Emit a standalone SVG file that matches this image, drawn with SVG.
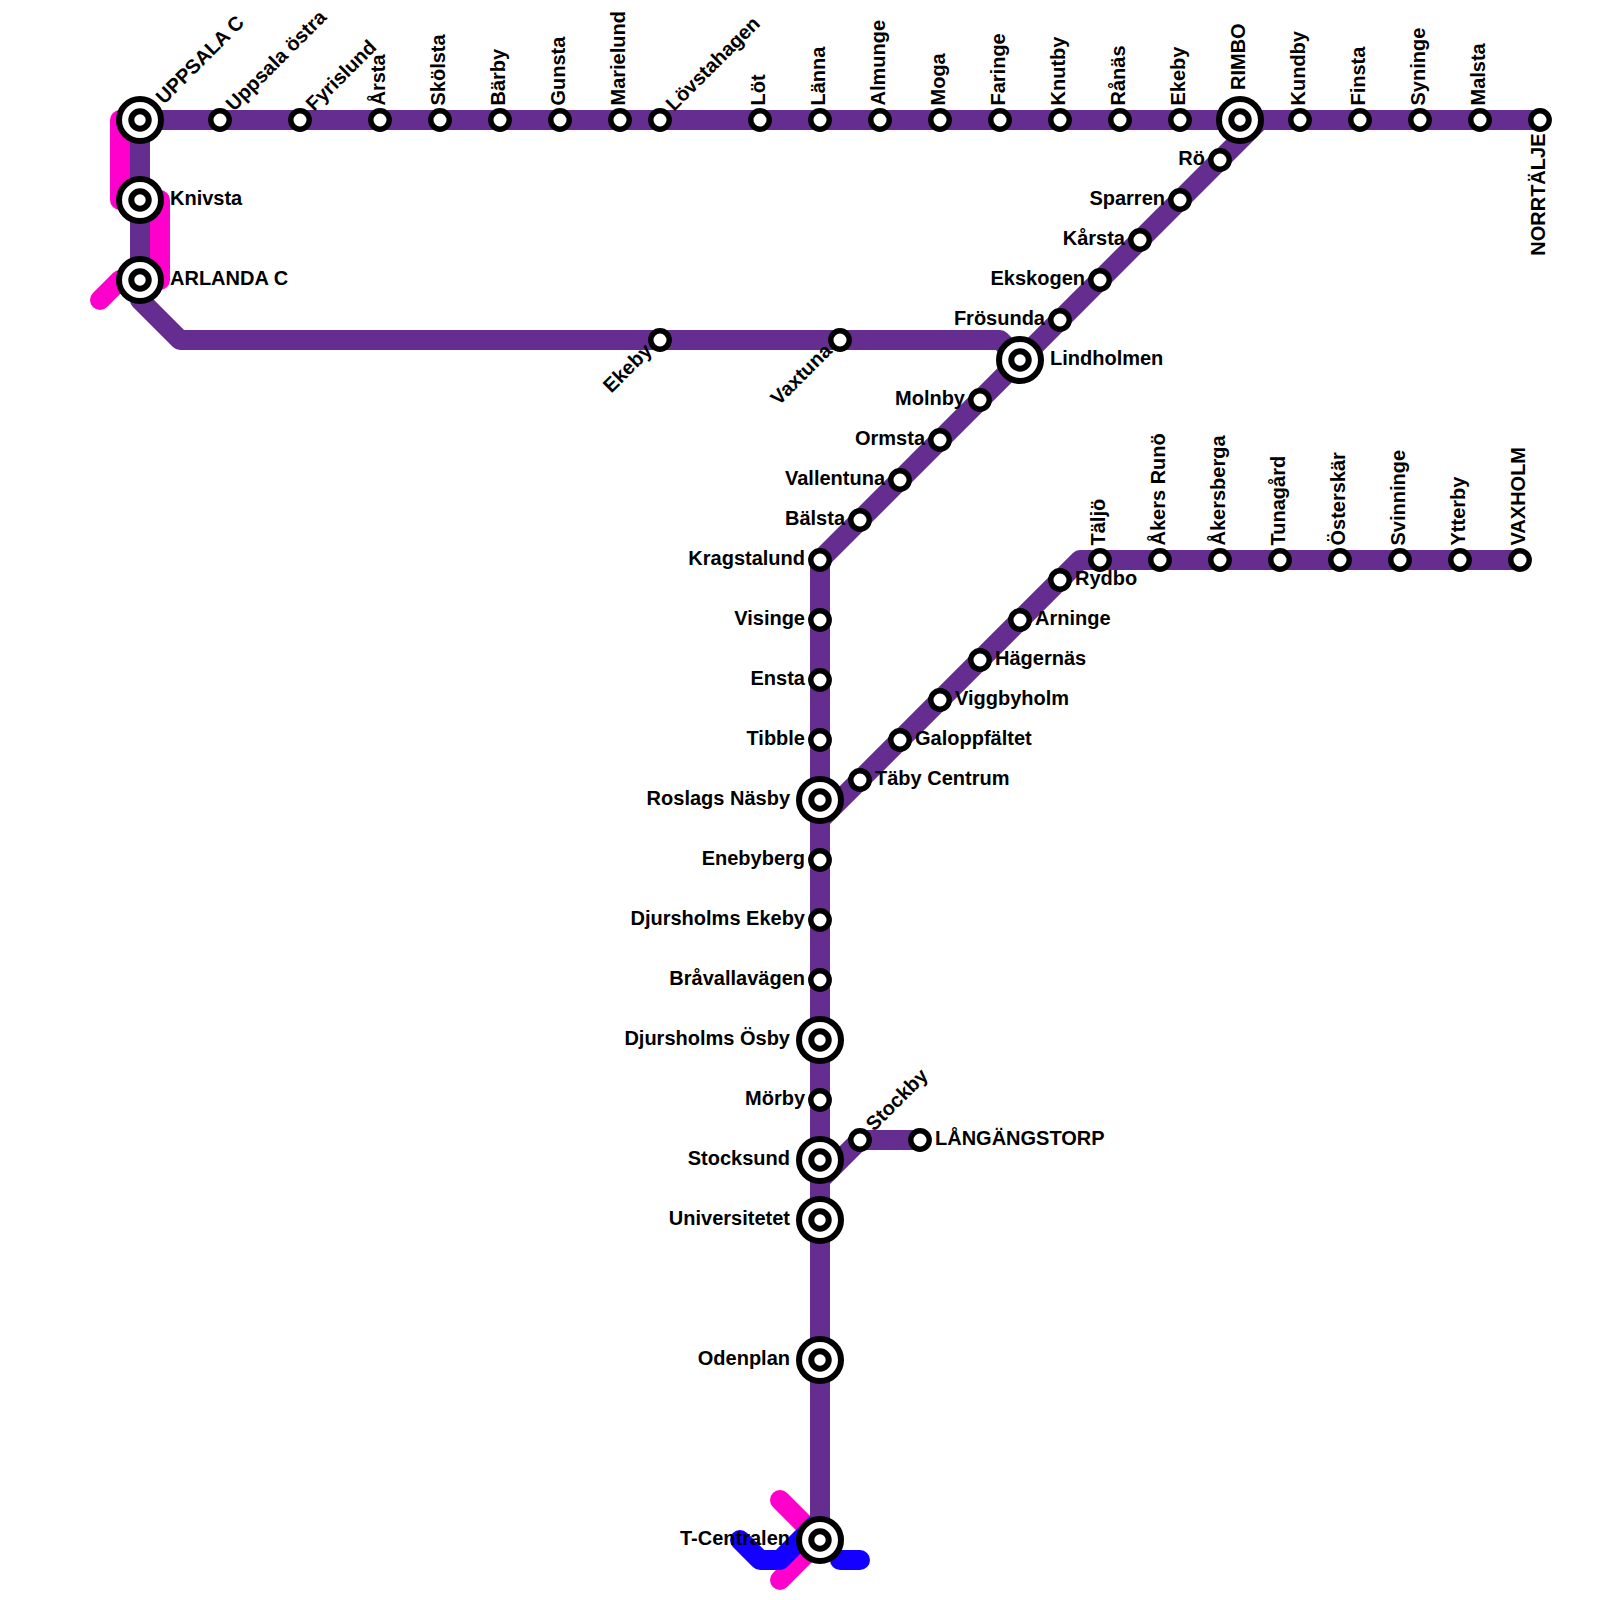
<svg xmlns="http://www.w3.org/2000/svg" width="1600" height="1600" viewBox="0 0 1600 1600">
<style>
.l{fill:none;stroke-width:20;stroke-linecap:round;stroke-linejoin:round}
.p{stroke:#662d91}.m{stroke:#ff00cc}.b{stroke:#1400ff}
.o{fill:#fff;stroke:#000;stroke-width:5.4}
.w{fill:#fff;stroke:#000;stroke-width:6}
.t{font-family:"Liberation Sans",Arial,sans-serif;font-size:20px;font-weight:700;fill:#000}
.e{text-anchor:end}
</style>
<rect width="1600" height="1600" fill="#fff"/>
<g id="connectors">
<path class="l m" d="M140,120H120V200H140"/>
<path class="l m" d="M140,200H160V280H140"/>
<path class="l m" d="M140,280H120L100,300"/>
<path class="l m" d="M780,1500L820,1540L780,1580"/>
<path class="l b" d="M740,1540L760,1560H780L820,1520"/>
<path class="l b" d="M840,1560H860"/>
<path class="l p" d="M1540,120H140V300L180,340H1000L1020,360"/>
<path class="l p" d="M1260,120L820,560V1540"/>
<path class="l p" d="M820,820L1080,560H1520"/>
<path class="l p" d="M820,1180L860,1140H920"/>
</g>
<g id="n-uppsala-c"><circle class="w" cx="140" cy="120" r="21"/><circle class="w" cx="140" cy="120" r="8.7"/><text class="t" transform="translate(164,105) rotate(-45)">UPPSALA C</text></g>
<g id="n-uppsala-ostra"><circle class="o" cx="220" cy="120" r="9.2"/><text class="t" transform="translate(234,112) rotate(-45)">Uppsala östra</text></g>
<g id="n-fyrislund"><circle class="o" cx="300" cy="120" r="9.2"/><text class="t" transform="translate(314,112) rotate(-45)">Fyrislund</text></g>
<g id="n-arsta"><circle class="o" cx="380" cy="120" r="9.2"/><text class="t" transform="translate(385,105.5) rotate(-90)">Årsta</text></g>
<g id="n-skolsta"><circle class="o" cx="440" cy="120" r="9.2"/><text class="t" transform="translate(445,105.5) rotate(-90)">Skölsta</text></g>
<g id="n-barby"><circle class="o" cx="500" cy="120" r="9.2"/><text class="t" transform="translate(505,105.5) rotate(-90)">Bärby</text></g>
<g id="n-gunsta"><circle class="o" cx="560" cy="120" r="9.2"/><text class="t" transform="translate(565,105.5) rotate(-90)">Gunsta</text></g>
<g id="n-marielund"><circle class="o" cx="620" cy="120" r="9.2"/><text class="t" transform="translate(625,105.5) rotate(-90)">Marielund</text></g>
<g id="n-lovstahagen"><circle class="o" cx="660" cy="120" r="9.2"/><text class="t" transform="translate(674,112) rotate(-45)">Lövstahagen</text></g>
<g id="n-lot"><circle class="o" cx="760" cy="120" r="9.2"/><text class="t" transform="translate(765,105.5) rotate(-90)">Löt</text></g>
<g id="n-lanna"><circle class="o" cx="820" cy="120" r="9.2"/><text class="t" transform="translate(825,105.5) rotate(-90)">Länna</text></g>
<g id="n-almunge"><circle class="o" cx="880" cy="120" r="9.2"/><text class="t" transform="translate(885,105.5) rotate(-90)">Almunge</text></g>
<g id="n-moga"><circle class="o" cx="940" cy="120" r="9.2"/><text class="t" transform="translate(945,105.5) rotate(-90)">Moga</text></g>
<g id="n-faringe"><circle class="o" cx="1000" cy="120" r="9.2"/><text class="t" transform="translate(1005,105.5) rotate(-90)">Faringe</text></g>
<g id="n-knutby"><circle class="o" cx="1060" cy="120" r="9.2"/><text class="t" transform="translate(1065,105.5) rotate(-90)">Knutby</text></g>
<g id="n-ranas"><circle class="o" cx="1120" cy="120" r="9.2"/><text class="t" transform="translate(1125,105.5) rotate(-90)">Rånäs</text></g>
<g id="n-ekeby-n"><circle class="o" cx="1180" cy="120" r="9.2"/><text class="t" transform="translate(1185,105.5) rotate(-90)">Ekeby</text></g>
<g id="n-rimbo"><circle class="w" cx="1240" cy="120" r="21"/><circle class="w" cx="1240" cy="120" r="8.7"/><text class="t" transform="translate(1245,90) rotate(-90)">RIMBO</text></g>
<g id="n-kundby"><circle class="o" cx="1300" cy="120" r="9.2"/><text class="t" transform="translate(1305,105.5) rotate(-90)">Kundby</text></g>
<g id="n-finsta"><circle class="o" cx="1360" cy="120" r="9.2"/><text class="t" transform="translate(1365,105.5) rotate(-90)">Finsta</text></g>
<g id="n-syninge"><circle class="o" cx="1420" cy="120" r="9.2"/><text class="t" transform="translate(1425,105.5) rotate(-90)">Syninge</text></g>
<g id="n-malsta"><circle class="o" cx="1480" cy="120" r="9.2"/><text class="t" transform="translate(1485,105.5) rotate(-90)">Malsta</text></g>
<g id="n-norrtalje"><circle class="o" cx="1540" cy="120" r="9.2"/><text class="t e" transform="translate(1545,133.5) rotate(-90)">NORRTÄLJE</text></g>
<g id="n-knivsta"><circle class="w" cx="140" cy="200" r="21"/><circle class="w" cx="140" cy="200" r="8.7"/><text class="t" x="170" y="205">Knivsta</text></g>
<g id="n-arlanda"><circle class="w" cx="140" cy="280" r="21"/><circle class="w" cx="140" cy="280" r="8.7"/><text class="t" x="170" y="285">ARLANDA C</text></g>
<g id="n-ekeby-w"><circle class="o" cx="660" cy="340" r="9.2"/><text class="t e" transform="translate(653,352) rotate(-45)">Ekeby</text></g>
<g id="n-vaxtuna"><circle class="o" cx="840" cy="340" r="9.2"/><text class="t e" transform="translate(833,352) rotate(-45)">Vaxtuna</text></g>
<g id="n-ro"><circle class="o" cx="1220" cy="160" r="9.2"/><text class="t e" x="1205" y="165">Rö</text></g>
<g id="n-sparren"><circle class="o" cx="1180" cy="200" r="9.2"/><text class="t e" x="1165" y="205">Sparren</text></g>
<g id="n-karsta"><circle class="o" cx="1140" cy="240" r="9.2"/><text class="t e" x="1125" y="245">Kårsta</text></g>
<g id="n-ekskogen"><circle class="o" cx="1100" cy="280" r="9.2"/><text class="t e" x="1085" y="285">Ekskogen</text></g>
<g id="n-frosunda"><circle class="o" cx="1060" cy="320" r="9.2"/><text class="t e" x="1045" y="325">Frösunda</text></g>
<g id="n-lindholmen"><circle class="w" cx="1020" cy="360" r="21"/><circle class="w" cx="1020" cy="360" r="8.7"/><text class="t" x="1050" y="365">Lindholmen</text></g>
<g id="n-molnby"><circle class="o" cx="980" cy="400" r="9.2"/><text class="t e" x="965" y="405">Molnby</text></g>
<g id="n-ormsta"><circle class="o" cx="940" cy="440" r="9.2"/><text class="t e" x="925" y="445">Ormsta</text></g>
<g id="n-vallentuna"><circle class="o" cx="900" cy="480" r="9.2"/><text class="t e" x="885" y="485">Vallentuna</text></g>
<g id="n-balsta"><circle class="o" cx="860" cy="520" r="9.2"/><text class="t e" x="845" y="525">Bälsta</text></g>
<g id="n-kragstalund"><circle class="o" cx="820" cy="560" r="9.2"/><text class="t e" x="805" y="565">Kragstalund</text></g>
<g id="n-visinge"><circle class="o" cx="820" cy="620" r="9.2"/><text class="t e" x="805" y="625">Visinge</text></g>
<g id="n-ensta"><circle class="o" cx="820" cy="680" r="9.2"/><text class="t e" x="805" y="685">Ensta</text></g>
<g id="n-tibble"><circle class="o" cx="820" cy="740" r="9.2"/><text class="t e" x="805" y="745">Tibble</text></g>
<g id="n-roslags-nasby"><circle class="w" cx="820" cy="800" r="21"/><circle class="w" cx="820" cy="800" r="8.7"/><text class="t e" x="790" y="805">Roslags Näsby</text></g>
<g id="n-enebyberg"><circle class="o" cx="820" cy="860" r="9.2"/><text class="t e" x="805" y="865">Enebyberg</text></g>
<g id="n-djursholms-ekeby"><circle class="o" cx="820" cy="920" r="9.2"/><text class="t e" x="805" y="925">Djursholms Ekeby</text></g>
<g id="n-bravallavagen"><circle class="o" cx="820" cy="980" r="9.2"/><text class="t e" x="805" y="985">Bråvallavägen</text></g>
<g id="n-djursholms-osby"><circle class="w" cx="820" cy="1040" r="21"/><circle class="w" cx="820" cy="1040" r="8.7"/><text class="t e" x="790" y="1045">Djursholms Ösby</text></g>
<g id="n-morby"><circle class="o" cx="820" cy="1100" r="9.2"/><text class="t e" x="805" y="1105">Mörby</text></g>
<g id="n-stocksund"><circle class="w" cx="820" cy="1160" r="21"/><circle class="w" cx="820" cy="1160" r="8.7"/><text class="t e" x="790" y="1165">Stocksund</text></g>
<g id="n-universitetet"><circle class="w" cx="820" cy="1220" r="21"/><circle class="w" cx="820" cy="1220" r="8.7"/><text class="t e" x="790" y="1225">Universitetet</text></g>
<g id="n-odenplan"><circle class="w" cx="820" cy="1360" r="21"/><circle class="w" cx="820" cy="1360" r="8.7"/><text class="t e" x="790" y="1365">Odenplan</text></g>
<g id="n-t-centralen"><circle class="w" cx="820" cy="1540" r="21"/><circle class="w" cx="820" cy="1540" r="8.7"/><text class="t e" x="790" y="1545">T-Centralen</text></g>
<g id="n-taby"><circle class="o" cx="860" cy="780" r="9.2"/><text class="t" x="875" y="785">Täby Centrum</text></g>
<g id="n-galoppfaltet"><circle class="o" cx="900" cy="740" r="9.2"/><text class="t" x="915" y="745">Galoppfältet</text></g>
<g id="n-viggbyholm"><circle class="o" cx="940" cy="700" r="9.2"/><text class="t" x="955" y="705">Viggbyholm</text></g>
<g id="n-hagernas"><circle class="o" cx="980" cy="660" r="9.2"/><text class="t" x="995" y="665">Hägernäs</text></g>
<g id="n-arninge"><circle class="o" cx="1020" cy="620" r="9.2"/><text class="t" x="1035" y="625">Arninge</text></g>
<g id="n-rydbo"><circle class="o" cx="1060" cy="580" r="9.2"/><text class="t" x="1075" y="585">Rydbo</text></g>
<g id="n-taljo"><circle class="o" cx="1100" cy="560" r="9.2"/><text class="t" transform="translate(1105,545.5) rotate(-90)">Täljö</text></g>
<g id="n-akers-runo"><circle class="o" cx="1160" cy="560" r="9.2"/><text class="t" transform="translate(1165,545.5) rotate(-90)">Åkers Runö</text></g>
<g id="n-akersberga"><circle class="o" cx="1220" cy="560" r="9.2"/><text class="t" transform="translate(1225,545.5) rotate(-90)">Åkersberga</text></g>
<g id="n-tunagard"><circle class="o" cx="1280" cy="560" r="9.2"/><text class="t" transform="translate(1285,545.5) rotate(-90)">Tunagård</text></g>
<g id="n-osterskar"><circle class="o" cx="1340" cy="560" r="9.2"/><text class="t" transform="translate(1345,545.5) rotate(-90)">Österskär</text></g>
<g id="n-svinninge"><circle class="o" cx="1400" cy="560" r="9.2"/><text class="t" transform="translate(1405,545.5) rotate(-90)">Svinninge</text></g>
<g id="n-ytterby"><circle class="o" cx="1460" cy="560" r="9.2"/><text class="t" transform="translate(1465,545.5) rotate(-90)">Ytterby</text></g>
<g id="n-vaxholm"><circle class="o" cx="1520" cy="560" r="9.2"/><text class="t" transform="translate(1525,545.5) rotate(-90)">VAXHOLM</text></g>
<g id="n-stockby"><circle class="o" cx="860" cy="1140" r="9.2"/><text class="t" transform="translate(874,1132) rotate(-45)">Stockby</text></g>
<g id="n-langangstorp"><circle class="o" cx="920" cy="1140" r="9.2"/><text class="t" x="935" y="1145">LÅNGÄNGSTORP</text></g>
</svg>
